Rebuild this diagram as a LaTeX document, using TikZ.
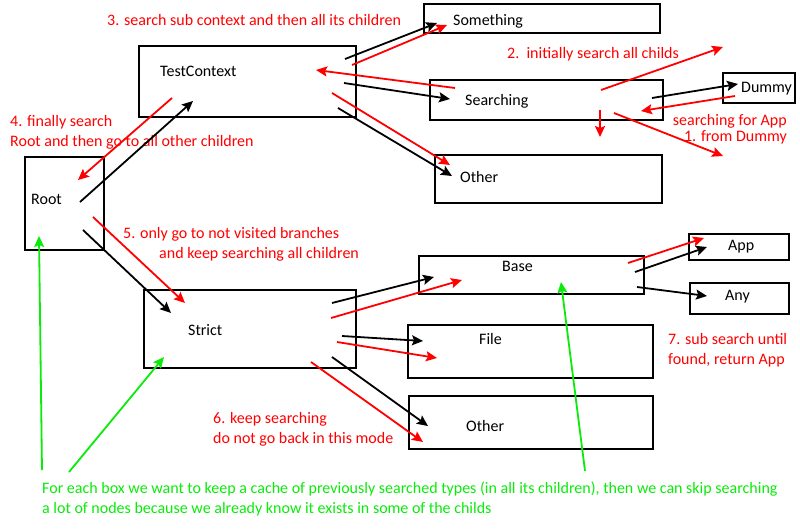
\documentclass[tikz,border=0pt]{standalone}
\usepackage{fontspec}
\setmainfont{Carlito}
\usetikzlibrary{arrows.meta}
\definecolor{notered}{RGB}{255,0,0}
\definecolor{notegreen}{RGB}{10,235,10}
\tikzset{
	box/.style = {
		rectangle,
		draw=black,
		line width=2pt,
		inner sep=0pt,
		anchor=north west
	},
	lbl/.style = {
		inner sep=0pt,
		anchor=west,
		font=\fontsize{16}{20}\selectfont
	},
	note/.style = {
		lbl,
		notered,
		align=left
	},
	cache/.style = {
		lbl,
		notegreen,
		align=left
	},
	link/.style = {
		line width=1.8pt,
		-{Stealth[length=11pt,width=10pt,inset=2pt]}
	},
	link_b/.style = {link, black},
	link_r/.style = {link, notered},
	link_g/.style = {link, notegreen}
}

\begin{document}
\begin{tikzpicture}[x=1pt,y=-1pt]
\useasboundingbox (0,0) rectangle (800,530);

% boxes
\node [box, minimum width=217, minimum height=71] (testctx) at (138,45) {};
\node [box, minimum width=79, minimum height=93] (root) at (24,156) {};
\node [box, minimum width=236, minimum height=29] (something) at (423,3) {};
\node [box, minimum width=233, minimum height=40] (searching) at (429,79) {};
\node [box, minimum width=72, minimum height=30] (dummy) at (722,72) {};
\node [box, minimum width=227, minimum height=48] (otherA) at (434,154) {};
\node [box, minimum width=100, minimum height=26] (app) at (688,233) {};
\node [box, minimum width=225, minimum height=38] (base) at (418,255) {};
\node [box, minimum width=99, minimum height=31] (any) at (689,282) {};
\node [box, minimum width=212, minimum height=78] (strict) at (143,289) {};
\node [box, minimum width=245, minimum height=53] (file) at (407,324) {};
\node [box, minimum width=244, minimum height=53] (otherB) at (408,395) {};

% box texts
\node [lbl] (testctx_t) at (160,71) {TestContext};
\node [lbl] (root_t) at (31,199) {Root};
\node [lbl] (something_t) at (453,21) {Something};
\node [lbl] (searching_t) at (465,101) {Searching};
\node [lbl] (dummy_t) at (741,89) {Dummy};
\node [lbl] (otherA_t) at (460,177) {Other};
\node [lbl] (app_t) at (728,247) {App};
\node [lbl] (base_t) at (502,266) {Base};
\node [lbl] (any_t) at (725,297) {Any};
\node [lbl] (strict_t) at (188,330) {Strict};
\node [lbl] (file_t) at (479,339) {File};
\node [lbl] (otherB_t) at (466,426) {Other};

% notes
\node [note] (step3) at (107,20) {3. search sub context and then all its children};
\node [note] (step2) at (507,54) {2.\ \ initially search all childs};
\node [note, anchor=east, align=right, font=\fontsize{16}{16}\selectfont] (step1) at (787,129) {searching for App\\1. from Dummy};
\node [note] (step4) at (10,132) {4. finally search\\Root and then go to all other children};
\node [note] (step5) at (123,244) {5. only go to not visited branches\\\hspace*{36pt}and keep searching all children};
\node [note] (step6) at (213,429) {6. keep searching\\do not go back in this mode};
\node [note] (step7) at (668,350) {7. sub search until\\found, return App};
\node [cache] (cachenote) at (42,499) {For each box we want to keep a cache of previously searched types (in all its children), then we can skip searching\\a lot of nodes because we already know it exists in some of the childs};

% arrow ends
\foreach \n/\x/\y in {
	bs1/80/202, be1/193/101, bs2/83/230, be2/171/313,
	bs3/345/59, be3/437/23, bs4/344/83, be4/450/99,
	bs5/338/108, be5/452/176, bs6/652/98, be6/738/84,
	bs7/635/272, be7/707/247, bs8/637/287, be8/707/296,
	bs9/332/303, be9/434/277, bs10/342/336, be10/423/341,
	bs11/332/357, be11/428/426,
	rs1/455/88, re1/316/70, rs2/352/65, re2/447/25,
	rs3/332/93, re3/450/165, rs4/172/98, re4/78/180,
	rs5/93/217, re5/185/303, rs6/601/90, re6/723/47,
	rs7/600/110, re7/600/137, rs8/614/113, re8/723/156,
	rs9/735/96, re9/641/111, rs10/628/263, re10/704/238,
	rs11/331/318, re11/462/280, rs12/337/342, re12/437/358,
	rs13/311/362, re13/423/442,
	gs1/42/470, ge1/39/236, gs2/69/472, ge2/164/357,
	gs3/585/471, ge3/561/282}
	\coordinate (\n) at (\x,\y);

% search paths
\foreach \i in {1,...,11}
	\draw [link_b] (bs\i) -- (be\i);
\foreach \i in {1,...,13}
	\draw [link_r] (rs\i) -- (re\i);
\foreach \i in {1,2,3}
	\draw [link_g] (gs\i) -- (ge\i);
\end{tikzpicture}
\end{document}
